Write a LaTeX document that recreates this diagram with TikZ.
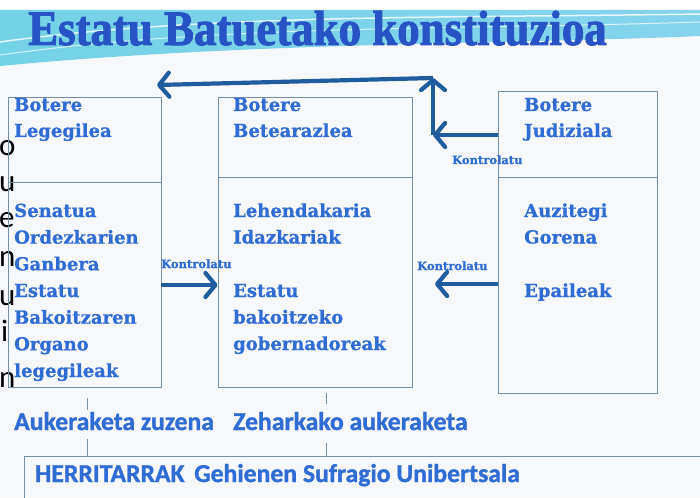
\documentclass[tikz,border=0pt]{standalone}
\usepackage{fontspec}
\setmainfont{DejaVu Serif}
\newfontfamily\dvsb{DejaVu Serif Bold}[FakeBold=0.8]
\newfontfamily\calb{Carlito Bold}[FakeBold=1.2]
\newfontfamily\calr{Carlito}
\newfontfamily\titlefont{Liberation Serif Bold}[FakeBold=2]
\usetikzlibrary{arrows.meta}
\definecolor{txtblue}{HTML}{2F6CD4}
\definecolor{titleblue}{HTML}{2753C4}
\definecolor{arrowblue}{HTML}{1F5C9E}
\definecolor{boxline}{HTML}{7090AA}
\definecolor{bgcol}{HTML}{F6F8FB}
\definecolor{bandcyan}{HTML}{74D2E6}
\definecolor{bandcyanR}{HTML}{86D3EE}
\tikzset{
  panel/.style={draw=boxline, line width=0.9pt, inner sep=0pt, fill=none},
  divline/.style={draw=boxline, line width=0.9pt},
  tick/.style={draw=boxline, line width=0.8pt},
  lbl/.style={font=\dvsb\fontsize{18}{22}\selectfont, text=txtblue, inner sep=0pt, anchor=base west},
  ctl/.style={font=\dvsb\fontsize{11.5}{13}\selectfont, text=txtblue, inner sep=0pt, anchor=base west},
  cal/.style={font=\calb\fontsize{25.7}{28}\selectfont, text=txtblue, inner sep=0pt, anchor=base west},
  frag/.style={font=\calr\fontsize{31}{34}\selectfont, text=black, inner sep=0pt, anchor=base west},
  arr/.style={draw=arrowblue, line width=4.2pt, -{Straight Barb[length=10pt,width=24pt,round]}},
}
\begin{document}
\begin{tikzpicture}[x=1pt,y=-1pt]
\useasboundingbox (0,0) rectangle (700,497);
\begin{scope}
\clip (0,0) rectangle (700,497);
% background
\fill[bgcol] (0,0) rectangle (700,497);
\fill[white] (0,0) rectangle (700,10);
\shade[left color=bandcyan, middle color=white!80!bandcyan, right color=bandcyanR]
  (0,10) -- (700,10) -- (700,36) .. controls (520,44) and (250,42) .. (0,66) -- cycle;
\draw[white, line width=1.5pt, opacity=0.8] (0,42) .. controls (200,14) and (450,18) .. (700,14);
\draw[white, line width=1pt, opacity=0.7] (0,55) .. controls (220,24) and (460,30) .. (700,22);

% title
\node[inner sep=0pt, anchor=base west, text=titleblue] (title) at (28,45)
  {\titlefont\fontsize{47}{50}\selectfont\scalebox{0.955}[1.05]{Estatu Batuetako konstituzioa}};

% left fragments
\node[frag] (f1) at (-1,155) {o};
\node[frag] (f2) at (-1,191) {u};
\node[frag] (f3) at (-1,227) {e};
\node[frag] (f4) at (-1,266) {n};
\node[frag] (f5) at (-1,305) {u};
\node[frag] (f6) at (1,341) {i};
\node[frag] (f7) at (-1,387) {n};

% boxes
\node[panel, minimum width=153pt, minimum height=290pt] (L) at (84.5,242) {};
\node[panel, minimum width=194pt, minimum height=290pt] (M) at (315,242) {};
\node[panel, minimum width=159pt, minimum height=302pt] (R) at (577.5,242) {};
\node[panel, anchor=north west, minimum width=700pt, minimum height=60pt] (H) at (24,456) {};
\draw[divline] (L.west |- 0,182) -- (L.east |- 0,182);
\draw[divline] (M.west |- 0,177) -- (M.east |- 0,177);
\draw[divline] (R.west |- 0,177) -- (R.east |- 0,177);

% left box texts
\node[lbl] (L1) at (14,111) {Botere};
\node[lbl] (L2) at (14,137) {Legegilea};
\foreach \t [count=\i] in {Senatua,Ordezkarien,Ganbera,Estatu,Bakoitzaren,Organo,legegileak}
  \node[lbl] (Lb\i) at (14,{217+(\i-1)*26.67}) {\t};

% middle box texts
\node[lbl] (M1) at (233,111) {Botere};
\node[lbl] (M2) at (233,137) {Betearazlea};
\node[lbl] (Mb1) at (233,217) {Lehendakaria};
\node[lbl] (Mb2) at (233,243.5) {Idazkariak};
\node[lbl] (Mb3) at (233,297) {Estatu};
\node[lbl] (Mb4) at (233,323.5) {bakoitzeko};
\node[lbl] (Mb5) at (233,350) {gobernadoreak};

% right box texts
\node[lbl] (R1) at (524,111) {Botere};
\node[lbl] (R2) at (524,137) {Judiziala};
\node[lbl] (Rb1) at (524,217) {Auzitegi};
\node[lbl] (Rb2) at (524,243.5) {Gorena};
\node[lbl] (Rb3) at (524,297) {Epaileak};

% control labels
\node[ctl] (k1) at (161,268) {Kontrolatu};
\node[ctl] (k2) at (417,270) {Kontrolatu};
\node[ctl] (k3) at (452,164) {Kontrolatu};

% arrows
\coordinate (corner1) at (433,135);
\coordinate (corner2) at (433,78);
\coordinate (lefttip) at (157,85);
\draw[arr] (L.east |- 0,285) -- (M.west |- 0,285);
\draw[arr] (R.west |- 0,284) -- (435,284);
\draw[arr] (R.west |- 0,135) -- (corner1);
\draw[arr] (corner1) -- (corner2);
\draw[arr] (corner2) -- (lefttip);

% bottom texts
\node[cal] (direct) at (14,430) {Aukeraketa zuzena};
\node[cal] (indirect) at (233,430) {Zeharkako aukeraketa};
\node[cal] (people) at (35,482) {HERRITARRAK\hspace{0.15em} Gehienen Sufragio Unibertsala};

% ticks
\coordinate (a1) at (87,398); \coordinate (a2) at (87,410);
\coordinate (a3) at (87,439);
\coordinate (b1) at (326,393); \coordinate (b2) at (326,404);
\coordinate (b3) at (326,443);
\draw[tick] (a1) -- (a2);
\draw[tick] (a3) -- (a3 |- H.north);
\draw[tick] (b1) -- (b2);
\draw[tick] (b3) -- (b3 |- H.north);
\end{scope}
\end{tikzpicture}
\end{document}
